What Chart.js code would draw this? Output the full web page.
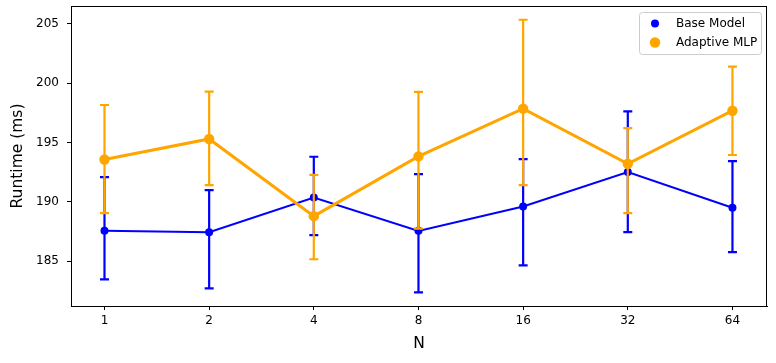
<!DOCTYPE html>
<html>
<head>
<meta charset="utf-8">
<script src="https://cdn.jsdelivr.net/npm/chart.js@4/dist/chart.umd.min.js"></script>
<style>
  html, body { margin: 0; padding: 0; background: #fff; overflow: hidden; }
  canvas { display: block; }
</style>
</head>
<body>
<canvas id="runtimeChart" width="776" height="363"></canvas>
<script>
// values
const nLabels = ['1', '2', '4', '8', '16', '32', '64'];
const baseMean = [187.56, 187.45, 190.37, 187.56, 189.61, 192.51, 189.50];
const baseLow  = [183.48, 182.72, 187.20, 182.38, 184.66, 187.45, 185.76];
const baseHigh = [192.09, 190.99, 193.80, 192.34, 193.61, 197.62, 193.44];
const mlpMean  = [193.57, 195.30, 188.80, 193.83, 197.85, 193.21, 197.68];
const mlpLow   = [189.05, 191.41, 185.17, 187.75, 191.41, 189.05, 193.95];
const mlpHigh  = [198.16, 199.29, 192.28, 199.26, 205.34, 196.22, 201.40];
const yTicks = [185, 190, 195, 200, 205];

const FONT = "'DejaVu Sans', sans-serif";

// draws the error bars of each dataset just before that dataset
const errorBars = {
    id: 'errorBars',
    beforeDatasetDraw(chart, args) {
        const ds = chart.data.datasets[args.index];
        if (!ds.errLow) return;
        const yScale = chart.scales.y;
        const ctx = chart.ctx;
        ctx.save();
        ctx.strokeStyle = ds.borderColor;
        ctx.lineWidth = 2.2;
        args.meta.data.forEach(function(pt, i) {
            const top = yScale.getPixelForValue(ds.errHigh[i]);
            const bot = yScale.getPixelForValue(ds.errLow[i]);
            ctx.beginPath();
            ctx.moveTo(pt.x, top);
            ctx.lineTo(pt.x, bot);
            ctx.moveTo(pt.x - 4.5, top);
            ctx.lineTo(pt.x + 4.5, top);
            ctx.moveTo(pt.x - 4.5, bot);
            ctx.lineTo(pt.x + 4.5, bot);
            ctx.stroke();
        });
        ctx.restore();
    }
};

// frame round the plot and the legend box in the upper right
const frameAndLegend = {
    id: 'frameAndLegend',
    afterDraw(chart) {
        const ctx = chart.ctx;
        const a = chart.chartArea;
        ctx.save();
        ctx.strokeStyle = '#000';
        ctx.lineWidth = 1;
        ctx.strokeRect(Math.round(a.left) + 0.5, Math.round(a.top) + 0.5,
                       Math.round(a.right - a.left) - 1, Math.round(a.bottom - a.top));

        const w = 122, h = 42;
        const x0 = a.right - 6 - w, y0 = a.top + 6;
        ctx.beginPath();
        ctx.roundRect(x0 + 0.5, y0 + 0.5, w, h, 3);
        ctx.fillStyle = 'rgba(255,255,255,0.8)';
        ctx.fill();
        ctx.strokeStyle = '#cccccc';
        ctx.stroke();

        const items = [chart.data.datasets[1], chart.data.datasets[0]];
        items.forEach(function(ds, i) {
            const cy = y0 + 11.5 + i * 19;
            ctx.beginPath();
            ctx.arc(x0 + 16, cy, ds.pointRadius, 0, Math.PI * 2);
            ctx.fillStyle = ds.borderColor;
            ctx.fill();
            ctx.fillStyle = '#000';
            ctx.font = '12px ' + FONT;
            ctx.textBaseline = 'middle';
            ctx.textAlign = 'left';
            ctx.fillText(ds.label, x0 + 37, cy);
        });
        ctx.restore();
    }
};

const ctx = document.getElementById('runtimeChart').getContext('2d');
const runtimeChart = new Chart(ctx, {
    type: 'line',
    data: {
        datasets: [
            {
                label: 'Adaptive MLP',
                data: mlpMean.map((v, i) => ({ x: i, y: v })),
                errLow: mlpLow,
                errHigh: mlpHigh,
                borderColor: '#ffa500',
                backgroundColor: '#ffa500',
                borderWidth: 3,
                pointRadius: 5.2,
                pointBorderWidth: 0,
                tension: 0,
                order: 0
            },
            {
                label: 'Base Model',
                data: baseMean.map((v, i) => ({ x: i, y: v })),
                errLow: baseLow,
                errHigh: baseHigh,
                borderColor: '#0000ff',
                backgroundColor: '#0000ff',
                borderWidth: 2,
                pointRadius: 4,
                pointBorderWidth: 0,
                tension: 0,
                order: 1
            }
        ]
    },
    options: {
        responsive: false,
        devicePixelRatio: 1,
        animation: false,
        layout: { padding: { top: 6, right: 9, left: 0, bottom: 0 } },
        plugins: {
            legend: { display: false },
            tooltip: { enabled: false }
        },
        scales: {
            x: {
                type: 'linear',
                min: -0.32,
                max: 6.33,
                afterBuildTicks: s => { s.ticks = nLabels.map((_, i) => ({ value: i })); },
                afterFit: s => { s.height = 57; s.paddingLeft = 0; s.paddingRight = 0; },
                grid: { drawOnChartArea: false, tickLength: 4, tickColor: '#000' },
                border: { display: true, color: '#000' },
                ticks: {
                    callback: (v, i) => nLabels[i],
                    color: '#000',
                    font: { family: FONT, size: 12 },
                    padding: 4,
                    maxRotation: 0
                },
                title: {
                    display: true,
                    text: 'N',
                    color: '#000',
                    font: { family: FONT, size: 15.5 },
                    padding: { top: 0, bottom: 10 }
                }
            },
            y: {
                min: 181.23,
                max: 206.5,
                afterBuildTicks: s => { s.ticks = yTicks.map(v => ({ value: v })); },
                afterFit: s => { s.width = 71; s.paddingTop = 0; s.paddingBottom = 0; },
                grid: { drawOnChartArea: false, tickLength: 4, tickColor: '#000' },
                border: { display: true, color: '#000' },
                ticks: {
                    color: '#000',
                    font: { family: FONT, size: 12 },
                    padding: 8
                },
                title: {
                    display: true,
                    text: 'Runtime (ms)',
                    color: '#000',
                    font: { family: FONT, size: 15.5 },
                    padding: { top: 9, bottom: 0 }
                }
            }
        }
    },
    plugins: [errorBars, frameAndLegend]
});
</script>
</body>
</html>
